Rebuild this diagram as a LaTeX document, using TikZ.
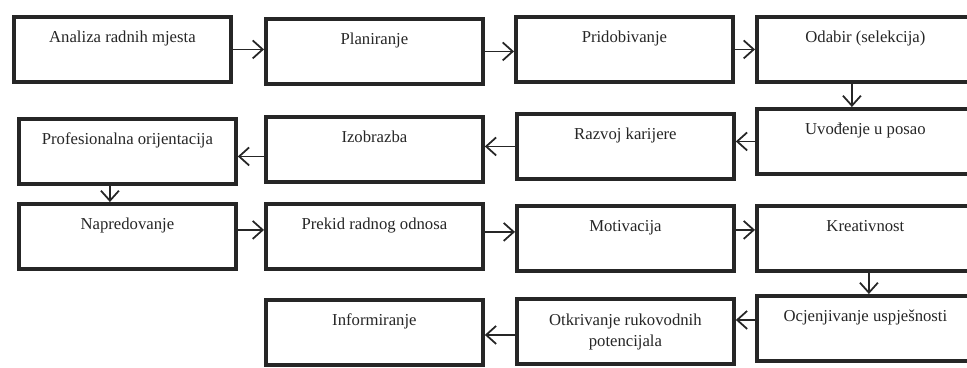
\documentclass[tikz,border=0pt]{standalone}
\usepackage{fontspec}
\setmainfont{Liberation Serif}
\usetikzlibrary{arrows.meta}
\definecolor{ink}{HTML}{262626}
\tikzset{
  stage/.style={draw=ink,line width=2.2pt,anchor=north west,minimum width=4.34cm,minimum height=1.3cm,
    inner xsep=2pt,inner ysep=0pt,text height=.52cm,text depth=.78cm,align=center,text=ink,
    font=\fontsize{9.5}{12}\selectfont},
  flow/.style={draw=ink,line width=1pt,-{Straight Barb[length=2mm,width=3.6mm,line width=1pt]}}
}
\begin{document}
\begin{tikzpicture}[x=.02cm,y=-.02cm]
\useasboundingbox (0,0) rectangle (967,368);
% first row
\node[stage] (analiza) at (12,15) {Analiza radnih mjesta};
\node[stage] (plan) at (264,17) {Planiranje};
\node[stage] (prid) at (514,15) {Pridobivanje};
\node[stage] (odabir) at (755,15) {Odabir (selekcija)};
% second row
\node[stage] (prof) at (17,117) {Profesionalna orijentacija};
\node[stage] (izob) at (264,115) {Izobrazba};
\node[stage] (razvoj) at (515,112) {Razvoj karijere};
\node[stage] (uvod) at (755,107) {Uvođenje u posao};
% third row
\node[stage] (napr) at (17,202) {Napredovanje};
\node[stage] (prekid) at (264,202) {Prekid radnog odnosa};
\node[stage] (motiv) at (515,204) {Motivacija};
\node[stage] (kreat) at (755,204) {Kreativnost};
% fourth row
\node[stage] (info) at (264,298) {Informiranje};
\node[stage,text height=.96cm,text depth=.34cm] (otkr) at (515,297) {Otkrivanje rukovodnih\\potencijala};
\node[stage] (ocj) at (755,294) {Ocjenjivanje uspješnosti};
% arrows
\draw[flow] (analiza.east) -- (analiza.east -| plan.west);
\draw[flow] (plan.east) -- (plan.east -| prid.west);
\draw[flow] (prid.east) -- (prid.east -| odabir.west);
\draw[flow] ([xshift=-.27cm]odabir.south) -- ([xshift=-.27cm]odabir.south |- uvod.north);
\draw[flow] (uvod.west) -- (uvod.west -| razvoj.east);
\draw[flow] (razvoj.west) -- (razvoj.west -| izob.east);
\draw[flow] ([yshift=-.14cm]izob.west) -- ([yshift=-.14cm]izob.west -| prof.east);
\draw[flow] ([xshift=-.35cm]prof.south) -- ([xshift=-.35cm]prof.south |- napr.north);
\draw[flow] ([yshift=.13cm]napr.east) -- ([yshift=.13cm]napr.east -| prekid.west);
\draw[flow] ([yshift=.09cm]prekid.east) -- ([yshift=.09cm]prekid.east -| motiv.west);
\draw[flow] ([yshift=.17cm]motiv.east) -- ([yshift=.17cm]motiv.east -| kreat.west);
\draw[flow] ([xshift=.07cm]kreat.south) -- ([xshift=.07cm]kreat.south |- ocj.north);
\draw[flow] ([yshift=.17cm]ocj.west) -- ([yshift=.17cm]ocj.west -| otkr.east);
\draw[flow] ([yshift=-.07cm]otkr.west) -- ([yshift=-.07cm]otkr.west -| info.east);
\end{tikzpicture}
\end{document}
